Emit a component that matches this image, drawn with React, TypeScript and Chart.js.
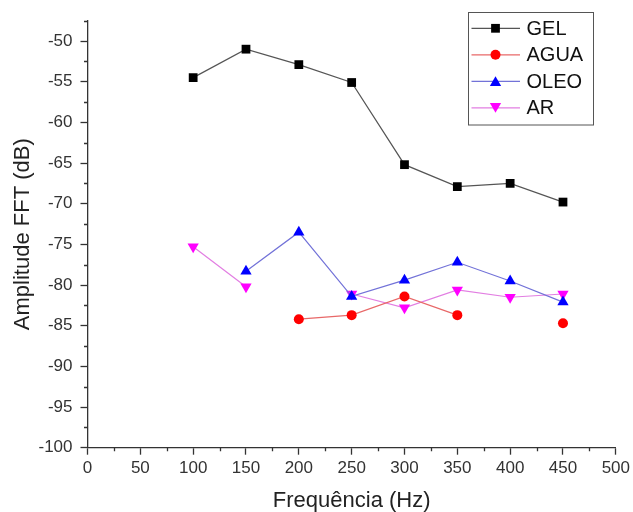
import React, { useEffect, useRef } from 'react';
import { Chart, registerables } from 'chart.js';

Chart.register(...registerables);

// ---- data ----
const frequencies = [100, 150, 200, 250, 300, 350, 400, 450];
const gel = [-54.5, -51.0, -52.9, -55.1, -65.2, -67.9, -67.5, -69.8];
const agua = [null, null, -84.2, -83.7, -81.4, -83.7, null, -84.7];
const oleo = [null, -78.3, -73.5, -81.4, -79.4, -77.2, -79.5, -82.1];
const ar = [-75.3, -80.2, null, -81.1, -82.8, -80.6, -81.5, -81.1];
const seriesNames = ['GEL', 'AGUA', 'OLEO', 'AR'];
const xMinorTicks = [25, 75, 125, 175, 225, 275, 325, 375, 425, 475];
const yMinorTicks = [-97.5, -92.5, -87.5, -82.5, -77.5, -72.5, -67.5, -62.5, -57.5, -52.5, -47.5];
const xTitle = 'Frequência (Hz)';
const yTitle = 'Amplitude FFT (dB)';

const FONT = '"Liberation Sans", Arial, sans-serif';
const AXIS = '#333333';

const styles = [
  { line: '#555555', fill: '#000000', point: 'rect', radius: 6.2, rotation: 0 },
  { line: '#e86868', fill: '#ff0000', point: 'circle', radius: 5, rotation: 0 },
  { line: '#7272d8', fill: '#0000ff', point: 'triangle', radius: 6.5, rotation: 0 },
  { line: '#e27ee2', fill: '#ff00ff', point: 'triangle', radius: 6.5, rotation: 180 },
];

function drawMarker(ctx: CanvasRenderingContext2D, kind: string, rot: number, x: number, y: number, r: number) {
  ctx.beginPath();
  if (kind === 'rect') {
    const s = Math.SQRT1_2 * r;
    ctx.rect(x - s, y - s, 2 * s, 2 * s);
  } else if (kind === 'circle') {
    ctx.arc(x, y, r, 0, Math.PI * 2);
  } else {
    let rad = (rot * Math.PI) / 180;
    const step = (2 * Math.PI) / 3;
    ctx.moveTo(x + Math.sin(rad) * r, y - Math.cos(rad) * r);
    rad += step;
    ctx.lineTo(x + Math.sin(rad) * r, y - Math.cos(rad) * r);
    rad += step;
    ctx.lineTo(x + Math.sin(rad) * r, y - Math.cos(rad) * r);
    ctx.closePath();
  }
  ctx.fill();
}

const decorPlugin = {
  id: 'decor',
  afterDraw(chart: any) {
    const ctx: CanvasRenderingContext2D = chart.ctx;
    const xs = chart.scales.x;
    const ys = chart.scales.y;
    const area = chart.chartArea;
    ctx.save();
    ctx.strokeStyle = AXIS;
    ctx.lineWidth = 1.3;
    ctx.beginPath();
    for (const v of xMinorTicks) {
      const px = Math.round(xs.getPixelForValue(v)) + 0.5;
      ctx.moveTo(px, area.bottom);
      ctx.lineTo(px, area.bottom + 3.5);
    }
    for (const v of yMinorTicks) {
      const py = Math.round(ys.getPixelForValue(v)) + 0.5;
      ctx.moveTo(area.left, py);
      ctx.lineTo(area.left - 3.5, py);
    }
    ctx.stroke();

    // legend
    const bx = 468.5, by = 12.5, bw = 125, bh = 112.5;
    ctx.strokeStyle = '#555555';
    ctx.lineWidth = 1;
    ctx.strokeRect(bx, by, bw, bh);
    const rowY = [28.3, 54.8, 81.3, 107.8];
    ctx.font = `20px ${FONT}`;
    ctx.textBaseline = 'middle';
    ctx.textAlign = 'left';
    seriesNames.forEach((name, i) => {
      const st = styles[i];
      const y = rowY[i];
      ctx.strokeStyle = st.line;
      ctx.lineWidth = 1.2;
      ctx.beginPath();
      ctx.moveTo(471.5, y);
      ctx.lineTo(520, y);
      ctx.stroke();
      ctx.fillStyle = st.fill;
      drawMarker(ctx, st.point, st.rotation, 495.5, y + (st.point === 'triangle' ? (st.rotation ? -1.5 : 1.5) : 0), st.radius);
      ctx.fillStyle = '#111111';
      ctx.fillText(name, 526.5, y + 1);
    });
    ctx.restore();
  },
};

export default function App() {
  const ref = useRef<HTMLCanvasElement | null>(null);
  useEffect(() => {
    if (!ref.current) return;
    const series = [gel, agua, oleo, ar];
    const chart = new Chart(ref.current, {
      type: 'line',
      data: {
        datasets: series.map((arr, i) => ({
          label: seriesNames[i],
          data: frequencies.map((f, j) => ({ x: f, y: arr[j] })),
          borderColor: styles[i].line,
          borderWidth: 1.2,
          backgroundColor: styles[i].fill,
          pointBackgroundColor: styles[i].fill,
          pointBorderColor: styles[i].fill,
          pointBorderWidth: 0,
          pointStyle: styles[i].point as any,
          pointRotation: styles[i].rotation,
          pointRadius: styles[i].radius,
          tension: 0,
          spanGaps: false,
          clip: false as any,
        })),
      },
      options: {
        animation: false,
        responsive: true,
        maintainAspectRatio: false,
        layout: { padding: { top: 20.7, right: 16, left: 0, bottom: 0 } },
        plugins: { legend: { display: false }, tooltip: { enabled: false } },
        scales: {
          x: {
            type: 'linear',
            min: 0,
            max: 500,
            afterFit: (s: any) => { s.height = 64.3; },
            ticks: { stepSize: 50, color: AXIS, padding: 3, font: { family: FONT, size: 17 }, maxRotation: 0 },
            grid: { drawOnChartArea: false, drawTicks: true, tickLength: 7, tickColor: AXIS, tickWidth: 1.3 },
            border: { display: true, color: AXIS, width: 1.3 },
            title: { display: true, text: xTitle, color: '#222222', font: { family: FONT, size: 22, lineHeight: 1 }, padding: { top: 0, bottom: 0 } },
          },
          y: {
            type: 'linear',
            min: -100,
            max: -47.5,
            afterFit: (s: any) => { s.width = 87.5; },
            ticks: { stepSize: 5, includeBounds: false, color: AXIS, padding: 8, font: { family: FONT, size: 17 } },
            grid: { drawOnChartArea: false, drawTicks: true, tickLength: 7, tickColor: AXIS, tickWidth: 1.3 },
            border: { display: true, color: AXIS, width: 1.3 },
            title: { display: true, text: yTitle, color: '#222222', font: { family: FONT, size: 22, lineHeight: 1 }, padding: { top: 12, bottom: 0 } },
          },
        },
      },
      plugins: [decorPlugin],
    } as any);
    return () => chart.destroy();
  }, []);
  return (
    <div style={{ position: 'absolute', left: 0, top: 0, width: 633, height: 512, background: '#fff' }}>
      <canvas ref={ref} />
    </div>
  );
}
